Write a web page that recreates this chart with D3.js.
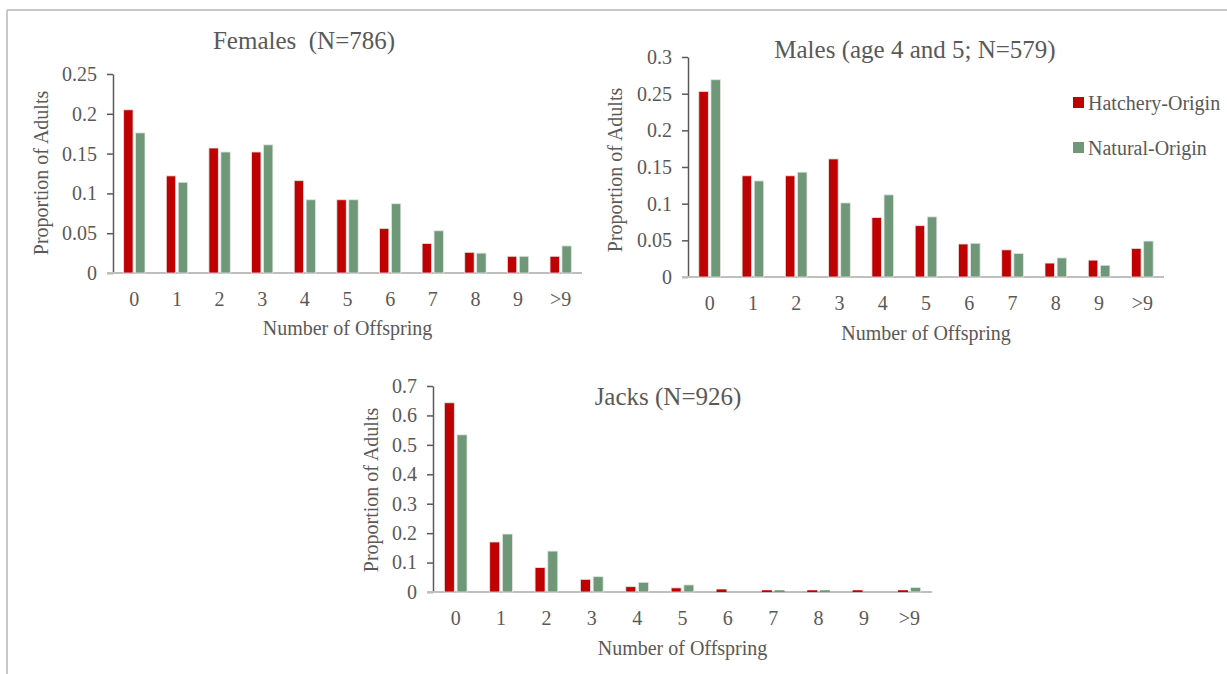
<!DOCTYPE html>
<html>
<head>
<meta charset="utf-8">
<script src="https://cdn.jsdelivr.net/npm/d3@7"></script>
<style>
  body { margin: 0; background: #fff; }
  text { font-family: "Liberation Serif", "Times New Roman", serif; fill: #595959; }
</style>
</head>
<body>
<svg id="chart" width="1227" height="674"></svg>
<script>
// categories and values
const categories = ["0", "1", "2", "3", "4", "5", "6", "7", "8", "9", ">9"];

const femalesHatchery = [0.205, 0.122, 0.157, 0.152, 0.116, 0.092, 0.056, 0.037, 0.026, 0.021, 0.021];
const femalesNatural  = [0.176, 0.114, 0.152, 0.161, 0.092, 0.092, 0.087, 0.053, 0.025, 0.021, 0.034];
const femalesTicks = [0, 0.05, 0.1, 0.15, 0.2, 0.25];
const femalesTickLabels = ["0", "0.05", "0.1", "0.15", "0.2", "0.25"];

const malesHatchery = [0.253, 0.138, 0.138, 0.161, 0.081, 0.070, 0.045, 0.037, 0.019, 0.023, 0.039];
const malesNatural  = [0.269, 0.131, 0.143, 0.101, 0.112, 0.082, 0.046, 0.032, 0.026, 0.016, 0.049];
const malesTicks = [0, 0.05, 0.1, 0.15, 0.2, 0.25, 0.3];
const malesTickLabels = ["0", "0.05", "0.1", "0.15", "0.2", "0.25", "0.3"];

const jacksHatchery = [0.643, 0.170, 0.083, 0.043, 0.018, 0.014, 0.009, 0.006, 0.006, 0.006, 0.006];
const jacksNatural  = [0.534, 0.197, 0.139, 0.052, 0.033, 0.024, 0, 0.006, 0.006, 0, 0.015];
const jacksTicks = [0, 0.1, 0.2, 0.3, 0.4, 0.5, 0.6, 0.7];
const jacksTickLabels = ["0", "0.1", "0.2", "0.3", "0.4", "0.5", "0.6", "0.7"];

const seriesNames = ["Hatchery-Origin", "Natural-Origin"];
const colors = ["#c00000", "#6e9878"];

const svg = d3.select("#chart");

// frame of the screenshot
svg.append("line").attr("x1", 7).attr("x2", 1227).attr("y1", 10).attr("y2", 10)
   .attr("stroke", "#c8c8c8").attr("stroke-width", 2);
svg.append("line").attr("x1", 7).attr("x2", 7).attr("y1", 10).attr("y2", 674)
   .attr("stroke", "#c8c8c8").attr("stroke-width", 2);

const drawPanel = (p) => {
  const x = d3.scaleBand().domain(categories).range([p.x0, p.x1]);
  const y = d3.scaleLinear().domain([0, p.ticks[p.ticks.length - 1]]).range([p.yZero, p.yTop]);
  const g = svg.append("g");

  // y axis
  const ya = g.append("g")
    .attr("transform", "translate(" + p.x0 + ",0)")
    .call(d3.axisLeft(y).tickValues(p.ticks).tickSize(6).tickSizeOuter(0).tickPadding(10)
      .tickFormat((d, i) => p.labels[i]));
  ya.select(".domain").attr("stroke", "#595959").attr("stroke-width", 1.5);
  ya.selectAll(".tick line").attr("stroke", "#595959").attr("stroke-width", 1.5);
  ya.selectAll("text").attr("font-size", 20).attr("fill", "#595959")
    .style("font-family", "Liberation Serif");

  // x axis (under the bars)
  const xa = g.append("g")
    .attr("transform", "translate(0," + p.yZero + ")")
    .call(d3.axisBottom(x).tickSize(0).tickSizeOuter(0).tickPadding(19));
  xa.select(".domain").attr("stroke", "#bfbfbf").attr("stroke-width", 2.2)
    .attr("d", "M" + (p.x0 - 6) + ",0H" + p.x1);
  xa.selectAll("text").attr("font-size", 20).attr("fill", "#595959")
    .style("font-family", "Liberation Serif");

  // bars
  const bw = x.bandwidth();
  [p.hatchery, p.natural].forEach((vals, s) => {
    g.append("g").selectAll("rect")
      .data(vals)
      .enter()
      .append("rect")
      .attr("x", (d, i) => x(categories[i]) + bw * (s === 0 ? 0.25 : 0.53))
      .attr("width", bw * 0.22)
      .attr("y", d => y(d))
      .attr("height", d => y(0) - y(d))
      .attr("fill", colors[s])
      .attr("stroke", "#e4e4e4")
      .attr("stroke-width", d => (y(0) - y(d)) > 4 ? 0.8 : 0);
  });

  // titles
  g.append("text").attr("x", p.titleX).attr("y", p.titleY)
    .attr("text-anchor", "middle").attr("font-size", 25)
    .style("white-space", "pre").text(p.title);
  g.append("text").attr("x", (p.x0 + p.x1) / 2).attr("y", p.yZero + p.xLabelDy)
    .attr("text-anchor", "middle").attr("font-size", 20).text("Number of Offspring");
  g.append("text")
    .attr("transform", "translate(" + p.yLabelX + "," + p.yLabelY + ") rotate(-90)")
    .attr("text-anchor", "middle").attr("font-size", 20).text("Proportion of Adults");
};

drawPanel({
  hatchery: femalesHatchery, natural: femalesNatural,
  ticks: femalesTicks, labels: femalesTickLabels,
  x0: 113, x1: 582, yZero: 273, yTop: 74,
  title: "Females  (N=786)", titleX: 304, titleY: 49,
  xLabelDy: 62, yLabelX: 48, yLabelY: 173
});

drawPanel({
  hatchery: malesHatchery, natural: malesNatural,
  ticks: malesTicks, labels: malesTickLabels,
  x0: 688, x1: 1164, yZero: 277, yTop: 57,
  title: "Males (age 4 and 5; N=579)", titleX: 915, titleY: 58,
  xLabelDy: 63, yLabelX: 622, yLabelY: 170
});

drawPanel({
  hatchery: jacksHatchery, natural: jacksNatural,
  ticks: jacksTicks, labels: jacksTickLabels,
  x0: 433, x1: 932, yZero: 592, yTop: 386,
  title: "Jacks (N=926)", titleX: 668, titleY: 405,
  xLabelDy: 63, yLabelX: 378, yLabelY: 490
});

// legend
const legend = svg.append("g");
seriesNames.forEach((name, i) => {
  legend.append("rect").attr("x", 1073).attr("y", 97 + i * 45)
    .attr("width", 11).attr("height", 11).attr("fill", colors[i]);
  legend.append("text").attr("x", 1088).attr("y", 110 + i * 45)
    .attr("font-size", 20).text(name);
});
</script>
</body>
</html>
